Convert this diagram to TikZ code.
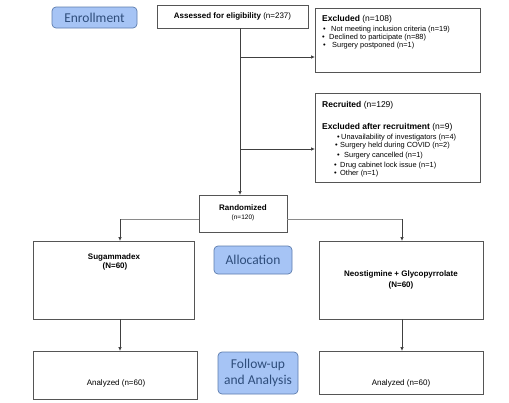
\documentclass[tikz,border=0pt]{standalone}
\usepackage{fontspec}
\setmainfont{Liberation Sans}
\newfontfamily\calib{Carlito}
\usetikzlibrary{arrows.meta}
\definecolor{boxline}{HTML}{555555}
\definecolor{blfill}{HTML}{A6C4F5}
\definecolor{blline}{HTML}{5D7DAE}
\definecolor{bltext}{HTML}{2E4D7B}
\definecolor{conn}{HTML}{404040}
\definecolor{connl}{HTML}{8A8A8A}
\tikzset{
  box/.style={draw=boxline, line width=0.8pt, fill=white, inner sep=0pt, outer sep=0pt},
  phase/.style={draw=blline, line width=0.7pt, fill=blfill, rounded corners=4pt, inner sep=0pt, outer sep=0pt,
    text=bltext, font=\calib\fontsize{13.5}{16}\selectfont, align=center},
  hd/.style={anchor=base west, inner sep=0pt, font=\fontsize{8.5}{9}\selectfont},
  itm/.style={anchor=base west, inner sep=0pt, font=\fontsize{7.4}{8}\selectfont},
  bul/.style={anchor=base west, inner sep=0pt, font=\fontsize{7.5}{8}\selectfont},
  ctr/.style={anchor=base, inner sep=0pt, font=\fontsize{8}{9}\selectfont},
  arr/.style={draw=conn, line width=0.7pt, -{Latex[length=4pt,width=3.5pt]}},
  ln/.style={draw=connl, line width=0.9pt},
}
\begin{document}
\begin{tikzpicture}[x=1pt,y=-1pt]
\useasboundingbox[fill=white] (0,0) rectangle (509,402);

% phase labels
\node[phase, minimum width=85pt, minimum height=21pt] (enr) at (94.5,17.5) {Enrollment};
\node[phase, minimum width=78pt, minimum height=28pt] (alloc) at (253,260) {Allocation};
\node[phase, minimum width=80pt, minimum height=42pt] (fup) at (258,373) {Follow-up\\and Analysis};

% assessed
\node[box, minimum width=151pt, minimum height=23pt] (assess) at (232.5,16.5)
  {\fontsize{8}{9}\selectfont\textbf{Assessed for eligibility} (n=237)};

% excluded
\node[box, minimum width=165pt, minimum height=64pt] (excl) at (397.5,40) {};
\node[hd] (exh) at (322,21) {\textbf{Excluded} (n=108)};
\node[bul] (eb1) at (323,31.5) {•};
\node[itm] (ex1) at (331,31.5) {Not meeting inclusion criteria (n=19)};
\node[bul] (eb2) at (322,39.5) {•};
\node[itm] (ex2) at (329,39.5) {Declined to participate (n=88)};
\node[bul] (eb3) at (323,47.5) {•};
\node[itm] (ex3) at (332,47.5) {Surgery postponed (n=1)};

% recruited
\node[box, minimum width=165pt, minimum height=89pt] (recr) at (397.5,137.5) {};
\node[hd] (rch) at (322,107) {\textbf{Recruited} (n=129)};
\node[hd] (rce) at (322,129) {\textbf{Excluded after recruitment} (n=9)};
\node[bul] (rb1) at (337,139.5) {•};
\node[itm] (rc1) at (341,139.5) {Unavailability of investigators (n=4)};
\node[bul] (rb2) at (335,147.5) {•};
\node[itm] (rc2) at (340,147.5) {Surgery held during COVID (n=2)};
\node[bul] (rb3) at (337,157) {•};
\node[itm] (rc3) at (344,157) {Surgery cancelled (n=1)};
\node[bul] (rb4) at (334,167.5) {•};
\node[itm] (rc4) at (340,167.5) {Drug cabinet lock issue (n=1)};
\node[bul] (rb5) at (334,175.5) {•};
\node[itm] (rc5) at (340,175.5) {Other (n=1)};

% randomized
\node[box, minimum width=88pt, minimum height=37pt] (rand) at (243,213.5) {};
\node[ctr] (rdt) at (243,210) {\textbf{Randomized}};
\node[ctr, font=\fontsize{6.5}{8}\selectfont] (rdn) at (243,219.5) {(n=120)};

% arms
\node[box, minimum width=161pt, minimum height=78pt] (sug) at (113.5,280) {};
\node[ctr] (sugt) at (114,259) {\textbf{Sugammadex}};
\node[ctr] (sugn) at (115,268) {\textbf{(N=60)}};
\node[box, minimum width=164pt, minimum height=78pt] (neo) at (401,280) {};
\node[ctr] (neot) at (401,276) {\textbf{Neostigmine + Glycopyrrolate}};
\node[ctr] (neon) at (401,287) {\textbf{(N=60)}};

% analyzed
\node[box, minimum width=164pt, minimum height=48pt] (ana1) at (115,375) {};
\node[ctr] (ana1t) at (116,385) {Analyzed (n=60)};
\node[box, minimum width=164pt, minimum height=43pt] (ana2) at (401,372.5) {};
\node[ctr] (ana2t) at (401,385) {Analyzed (n=60)};

% connectors
\coordinate (t0) at (240,28);
\coordinate (t1) at (240,57);
\coordinate (t2) at (240,149);
\coordinate (t3) at (240,195);
\draw[arr] (t0) -- (t3);
\draw[arr] (t1) -- (t1 -| excl.west);
\draw[arr] (t2) -- (t2 -| recr.west);
\coordinate (sl) at (120,219);
\coordinate (sr) at (402,219);
\draw[ln] (sl -| rand.west) -- (sl);
\draw[arr] (sl) -- (sl |- sug.north);
\draw[ln] (sr -| rand.east) -- (sr);
\draw[arr] (sr) -- (sr |- neo.north);
\coordinate (d1) at (120,319);
\coordinate (d2) at (402,319);
\draw[arr] (d1) -- (d1 |- ana1.north);
\draw[arr] (d2) -- (d2 |- ana2.north);
\end{tikzpicture}
\end{document}
